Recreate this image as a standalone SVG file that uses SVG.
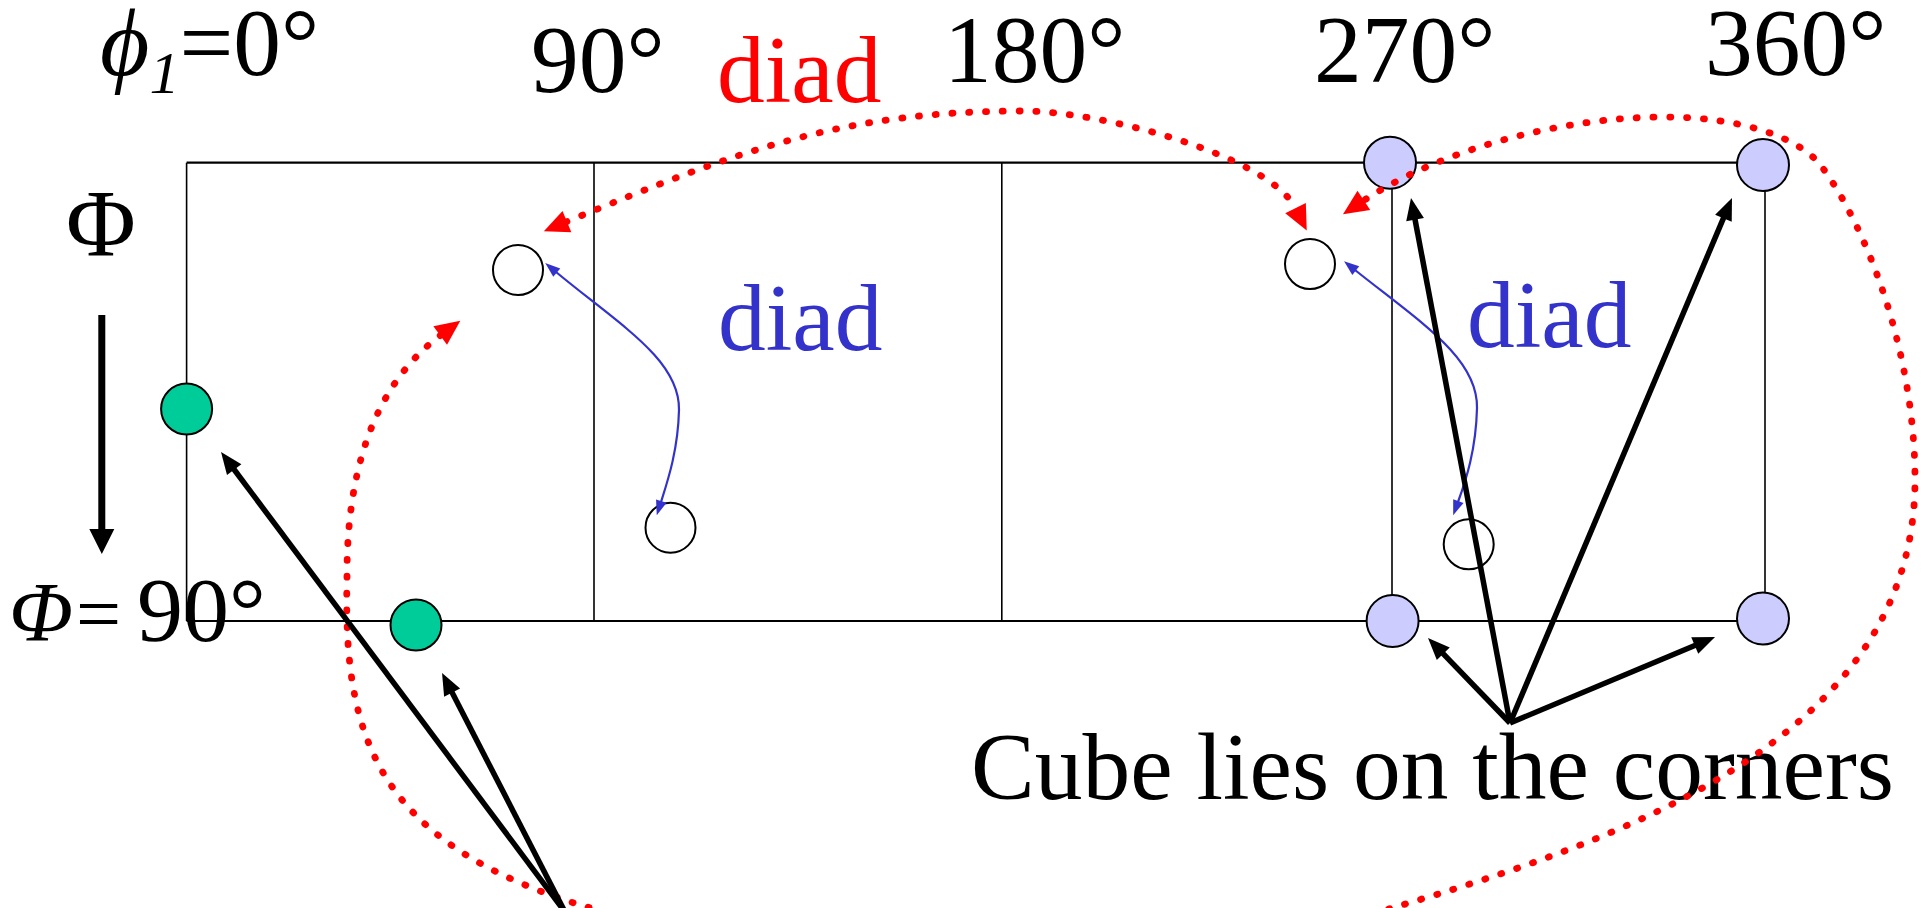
<svg xmlns="http://www.w3.org/2000/svg" width="1925" height="908" viewBox="0 0 1925 908">
<defs>
<style>
 text { font-family: "Liberation Serif", "Times New Roman", "DejaVu Serif", serif; font-size: 95.5px; fill: #000; }
 .red { fill: #FF0000; }
 .blue { fill: #3333CC; }
 .grid { stroke: #000; fill: none; }
 .h { stroke-width: 2.2; }
 .v { stroke-width: 1.6; }
 .open { fill: #fff; stroke: #000; stroke-width: 2; }
 .green { fill: #00CC99; stroke: #000; stroke-width: 2; }
 .lav { fill: #CCCCFF; stroke: #000; stroke-width: 2; }
 .dot { fill: none; stroke: #FF0000; stroke-width: 6.8; stroke-linecap: round; stroke-dasharray: 1 15.8; marker-start: url(#ra); marker-end: url(#ra); }
 .bl { fill: none; stroke: #3333CC; stroke-width: 2.2; marker-start: url(#ba); marker-end: url(#ba); }
 .blk { fill: none; stroke: #000; stroke-width: 5.5; marker-end: url(#ka); }
</style>
<marker id="ra" markerUnits="userSpaceOnUse" markerWidth="26" markerHeight="24" refX="1" refY="11.5" orient="auto-start-reverse" overflow="visible"><path d="M0,0 L25,11.5 L0,23 z" fill="#FF0000"/></marker>
<marker id="ba" markerUnits="userSpaceOnUse" markerWidth="16" markerHeight="12" refX="1" refY="5.5" orient="auto-start-reverse" overflow="visible"><path d="M0,0 L15,5.5 L0,11 z" fill="#3333CC"/></marker>
<marker id="ka" markerUnits="userSpaceOnUse" markerWidth="23" markerHeight="18" refX="2" refY="9" orient="auto" overflow="visible"><path d="M0,0 L22,9 L0,18 z" fill="#000"/></marker>
<marker id="kb" markerUnits="userSpaceOnUse" markerWidth="26" markerHeight="26" refX="2" refY="12.5" orient="auto" overflow="visible"><path d="M0,0 L25,12.5 L0,25 z" fill="#000"/></marker>
</defs>

<g id="grid" class="grid">
 <line class="h" x1="186.6" y1="162.7" x2="1765" y2="162.7"/>
 <line class="h" x1="186.6" y1="621" x2="1765" y2="621"/>
 <line class="v" x1="186.6" y1="162.7" x2="186.6" y2="621"/>
 <line class="v" x1="594" y1="162.7" x2="594" y2="621"/>
 <line class="v" x1="1001.8" y1="162.7" x2="1001.8" y2="621"/>
 <line class="v" x1="1392" y1="162.7" x2="1392" y2="621"/>
 <line class="v" x1="1765" y1="162.7" x2="1765" y2="621"/>
</g>

<g id="labels">
 <text x="100" y="75" font-size="92"><tspan font-style="italic">ϕ</tspan><tspan font-style="italic" font-size="60" dy="18">1</tspan><tspan dy="-18">=0°</tspan></text>
 <text x="531" y="92" font-size="95">90°</text>
 <text x="944" y="81.7" font-size="96">180°</text>
 <text x="1314" y="81.7" font-size="96">270°</text>
 <text x="1705" y="75" font-size="96">360°</text>
 <text x="66" y="256" font-size="92">Φ</text>
 <text y="641"><tspan x="9" font-style="italic" font-size="84">Φ</tspan><tspan x="76" font-size="80">=</tspan><tspan x="137" font-size="92">90°</tspan></text>
 <text class="red" x="717" y="102">diad</text>
 <text class="blue" x="718" y="350">diad</text>
 <text class="blue" x="1467" y="347">diad</text>
 <text x="971" y="798.5">Cube lies on the corners</text>
</g>

<g id="n-open-1"><circle class="open" cx="518" cy="270" r="25"/></g>
<g id="n-open-2"><circle class="open" cx="670.5" cy="527.7" r="25"/></g>
<g id="n-open-3"><circle class="open" cx="1310" cy="264" r="25"/></g>
<g id="n-open-4"><circle class="open" cx="1468.7" cy="544.3" r="25"/></g>
<g id="n-green-1"><circle class="green" cx="186.6" cy="409" r="25.5"/></g>
<g id="n-green-2"><circle class="green" cx="416" cy="625" r="25.5"/></g>
<g id="n-lav-1"><circle class="lav" cx="1390" cy="162.7" r="26"/></g>
<g id="n-lav-2"><circle class="lav" cx="1763" cy="165" r="26"/></g>
<g id="n-lav-3"><circle class="lav" cx="1392.6" cy="621" r="26"/></g>
<g id="n-lav-4"><circle class="lav" cx="1763" cy="618.5" r="26"/></g>

<g id="connectors">
 <line x1="101.8" y1="315" x2="101.8" y2="531" stroke="#000" stroke-width="7" marker-end="url(#kb)"/>
 <path class="dot" d="M566,222 C740,150 843,111 1023,111 C1100,111 1269,155 1296,209"/>
 <path class="dot" d="M441,335 C380,380 346,460 347,580 C343,740 380,840 574,903 C760,963 1230,960 1392,908 C1620,840 1915,740 1915,480 C1915,350 1865,225 1822,167 C1800,137 1740,117 1665,117 C1560,117 1440,150 1363,201"/>
 <path class="bl" d="M556,272 C620,325 680,360 679,410 C678,450 668,480 661,502"/>
 <path class="bl" d="M1355,270 C1420,322 1478,358 1477,408 C1476,450 1466,480 1458,502"/>
 <line class="blk" x1="565" y1="912" x2="233" y2="468"/>
 <line class="blk" x1="565" y1="912" x2="451.2" y2="690.8"/>
 <line class="blk" x1="1510" y1="723" x2="1441.9" y2="652.4"/>
 <line class="blk" x1="1510" y1="723" x2="1696.6" y2="644.7"/>
 <line class="blk" x1="1510" y1="723" x2="1414.7" y2="217.7"/>
 <line class="blk" x1="1510" y1="723" x2="1724.2" y2="216.4"/>
</g>
</svg>
